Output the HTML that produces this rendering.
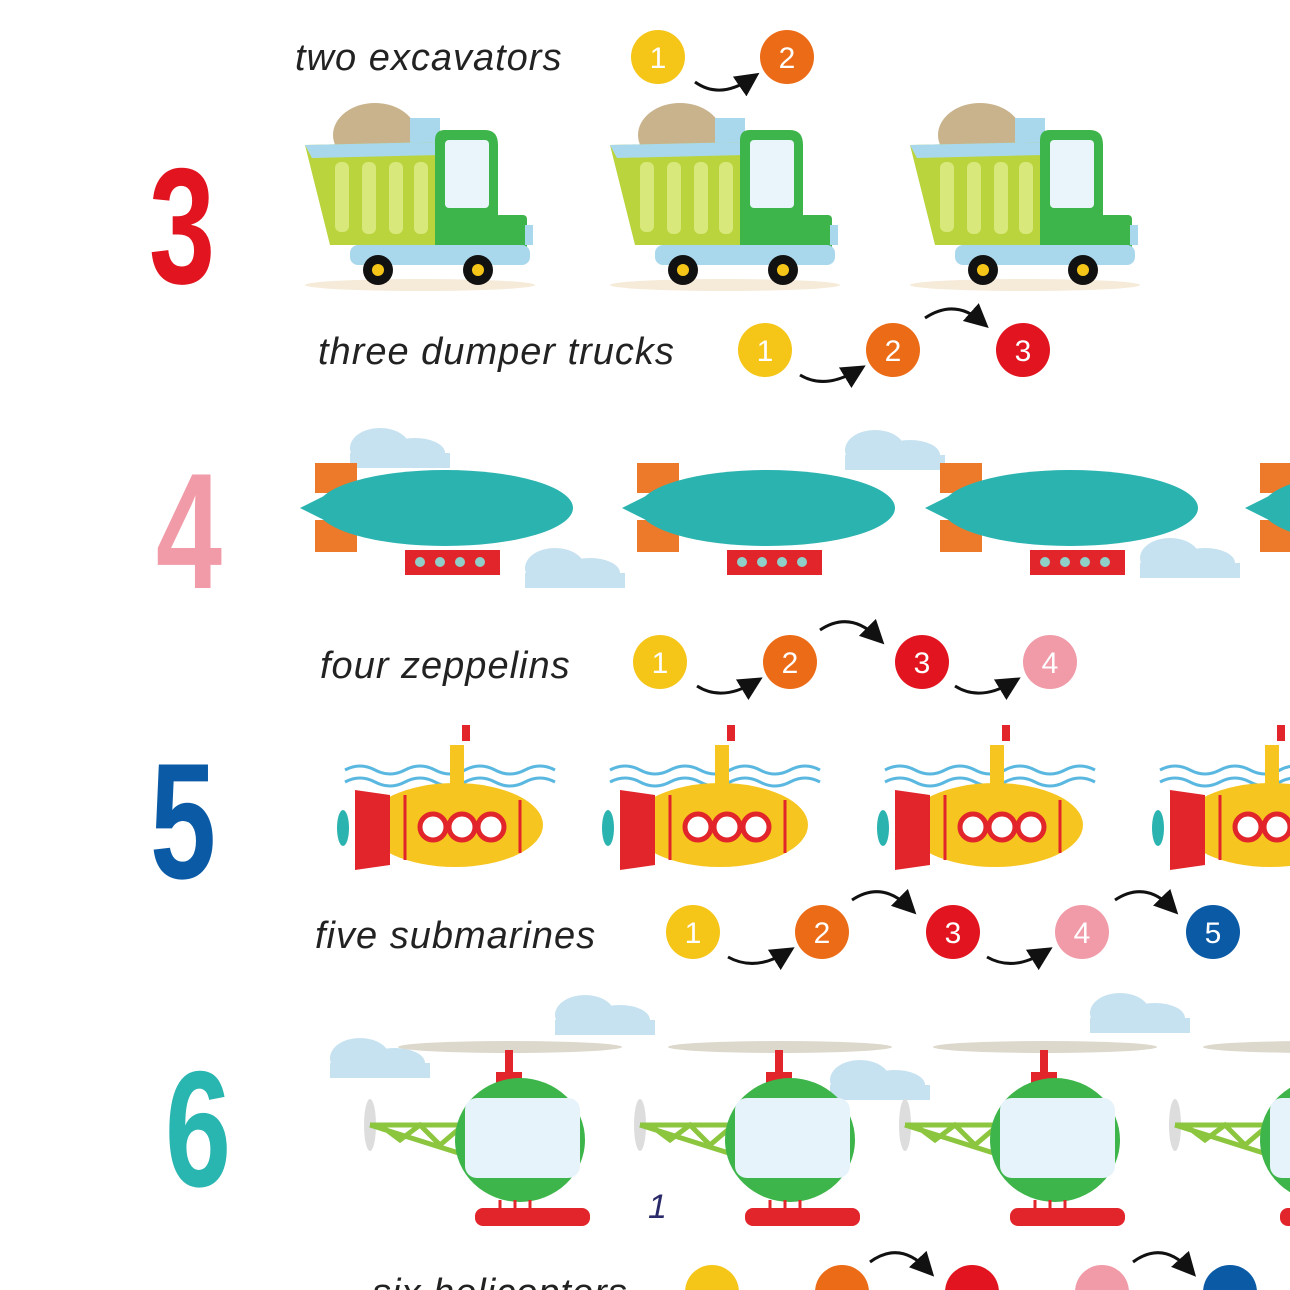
<!DOCTYPE html>
<html><head><meta charset="utf-8"><style>
html,body{margin:0;padding:0;background:#fff;}
svg{display:block}
.t{font-family:"Liberation Sans",sans-serif;font-style:italic;font-size:38px;fill:#222;letter-spacing:1px}
.n{font-family:"Liberation Sans",sans-serif;font-size:30px;fill:#fff;text-anchor:middle}
.big{font-family:"Liberation Sans",sans-serif;font-weight:bold;font-size:165px;text-anchor:middle}
</style></head><body>
<svg width="1290" height="1290" viewBox="0 0 1290 1290" xmlns="http://www.w3.org/2000/svg">
<defs>
<marker id="ah" markerWidth="8" markerHeight="8" refX="5" refY="4" orient="auto"><path d="M0,0 L8,4 L0,8 Z" fill="#111"/></marker>
<g id="truck">
  <ellipse cx="120" cy="185" rx="115" ry="6" fill="#f6ead8"/>
  <ellipse cx="75" cy="35" rx="42" ry="32" fill="#c9b38c"/>
  <rect x="110" y="18" width="30" height="30" fill="#a9d8ec"/>
  <polygon points="5,45 140,42 140,145 30,145" fill="#b9d43c"/>
  <polygon points="5,45 140,42 140,55 12,58" fill="#a9d8ec"/>
  <g fill="#d9e87a"><rect x="35" y="62" width="14" height="70" rx="6"/><rect x="62" y="62" width="14" height="72" rx="6"/><rect x="89" y="62" width="14" height="72" rx="6"/><rect x="114" y="62" width="14" height="72" rx="6"/></g>
  <path d="M135,150 L135,40 Q135,30 145,30 L185,30 Q198,30 198,45 L198,150 Z" fill="#3eb54a"/>
  <rect x="145" y="40" width="44" height="68" rx="4" fill="#e9f5fb"/>
  <rect x="195" y="115" width="32" height="40" rx="4" fill="#3eb54a"/>
  <rect x="225" y="125" width="8" height="20" fill="#a9d8ec"/>
  <rect x="50" y="145" width="180" height="20" rx="8" fill="#a9d8ec"/>
  <circle cx="78" cy="170" r="15" fill="#111"/><circle cx="78" cy="170" r="6" fill="#f5c518"/>
  <circle cx="178" cy="170" r="15" fill="#111"/><circle cx="178" cy="170" r="6" fill="#f5c518"/>
</g>
<g id="zep">
  <rect x="15" y="5" width="42" height="30" fill="#ec7a2a"/>
  <rect x="15" y="62" width="42" height="32" fill="#ec7a2a"/>
  <polygon points="0,50 40,30 40,70" fill="#2bb3b0"/>
  <ellipse cx="145" cy="50" rx="128" ry="38" fill="#2bb3b0"/>
  <rect x="105" y="92" width="95" height="25" fill="#e2242b"/>
  <g fill="#8fcfc8"><circle cx="120" cy="104" r="5"/><circle cx="140" cy="104" r="5"/><circle cx="160" cy="104" r="5"/><circle cx="180" cy="104" r="5"/></g>
</g>
<g id="cloud" fill="#c6e2f0"><ellipse cx="30" cy="20" rx="30" ry="20"/><ellipse cx="65" cy="25" rx="30" ry="15"/><rect x="0" y="25" width="100" height="15"/></g>
<g id="sub">
  <path d="M10,45 q15,-8 30,0 t30,0 t30,0 t30,0 t30,0 t30,0 t30,0" stroke="#5ab8e0" stroke-width="3" fill="none"/>
  <path d="M10,57 q15,-8 30,0 t30,0 t30,0 t30,0 t30,0 t30,0 t30,0" stroke="#5ab8e0" stroke-width="3" fill="none"/>
  <rect x="115" y="20" width="14" height="50" fill="#f7c520"/>
  <rect x="127" y="0" width="8" height="16" fill="#e2242b"/>
  <ellipse cx="120" cy="100" rx="88" ry="42" fill="#f7c520"/>
  <polygon points="20,65 55,70 55,140 20,145" fill="#e2242b"/>
  <ellipse cx="8" cy="103" rx="6" ry="18" fill="#2bb3b0"/>
  <g fill="#fff" stroke="#e2242b" stroke-width="5"><circle cx="98" cy="102" r="13"/><circle cx="127" cy="102" r="13"/><circle cx="156" cy="102" r="13"/></g>
  <line x1="70" y1="70" x2="70" y2="135" stroke="#e2242b" stroke-width="3"/>
  <line x1="185" y1="75" x2="185" y2="128" stroke="#e2242b" stroke-width="3"/>
</g>
<g id="heli">
  <ellipse cx="150" cy="7" rx="112" ry="6" fill="#ddd8cc"/>
  <rect x="145" y="10" width="8" height="25" fill="#e2242b"/>
  <rect x="136" y="32" width="26" height="12" fill="#e2242b"/>
  <ellipse cx="10" cy="85" rx="6" ry="26" fill="#ddd"/>
  <path d="M10,85 L110,85 M10,85 L105,115 M20,85 L40,100 L60,85 L80,105 L100,88" stroke="#8cc63f" stroke-width="5" fill="none"/>
  <ellipse cx="160" cy="100" rx="65" ry="62" fill="#3eb54a"/>
  <rect x="105" y="58" width="115" height="80" rx="12" fill="#e6f3fb"/>
  <path d="M140,160 L140,175 M155,160 L155,175 M170,160 L170,175" stroke="#e2242b" stroke-width="3"/>
  <rect x="115" y="168" width="115" height="18" rx="8" fill="#e2242b"/>
</g>
</defs>

<!-- big numbers -->
<text class="big" transform="translate(182,283) scale(0.72,1)" fill="#e2141f">3</text>
<text class="big" transform="translate(189,588) scale(0.72,1)" fill="#f19aa8">4</text>
<text class="big" transform="translate(183,878) scale(0.72,1)" fill="#0a5aa6">5</text>
<text class="big" transform="translate(198,1186) scale(0.72,1)" fill="#29b5b0">6</text>

<!-- row labels -->
<text class="t" x="295" y="70">two excavators</text>
<text class="t" x="318" y="364">three dumper trucks</text>
<text class="t" x="320" y="678">four zeppelins</text>
<text class="t" x="315" y="948">five submarines</text>
<text class="t" x="372" y="1305">six helicopters</text>
<text x="648" y="1218" font-family="Liberation Sans,sans-serif" font-size="34" fill="#2a2a6a" font-style="italic">1</text>

<use href="#truck" x="300" y="100"/>
<use href="#truck" x="605" y="100"/>
<use href="#truck" x="905" y="100"/>

<use href="#cloud" x="350" y="428"/>
<use href="#cloud" x="845" y="430"/>
<use href="#cloud" x="525" y="548"/>
<use href="#cloud" x="1140" y="538"/>
<use href="#zep" x="300" y="458"/>
<use href="#zep" x="622" y="458"/>
<use href="#zep" x="925" y="458"/>
<use href="#zep" x="1245" y="458"/>

<use href="#sub" x="335" y="725"/>
<use href="#sub" x="600" y="725"/>
<use href="#sub" x="875" y="725"/>
<use href="#sub" x="1150" y="725"/>

<use href="#cloud" x="330" y="1038"/>
<use href="#cloud" x="555" y="995"/>
<use href="#cloud" x="830" y="1060"/>
<use href="#cloud" x="1090" y="993"/>
<use href="#heli" x="360" y="1040"/>
<use href="#heli" x="630" y="1040"/>
<use href="#heli" x="895" y="1040"/>
<use href="#heli" x="1165" y="1040"/>

<g>
<circle cx="658" cy="57" r="27" fill="#f5c518"/><text class="n" x="658" y="68">1</text>
<circle cx="787" cy="57" r="27" fill="#ec6b16"/><text class="n" x="787" y="68">2</text>
<path d="M695,82 Q720,100 752,78" stroke="#111" stroke-width="3" fill="none" marker-end="url(#ah)"/>

<circle cx="765" cy="350" r="27" fill="#f5c518"/><text class="n" x="765" y="361">1</text>
<circle cx="893" cy="350" r="27" fill="#ec6b16"/><text class="n" x="893" y="361">2</text>
<circle cx="1023" cy="350" r="27" fill="#e2141f"/><text class="n" x="1023" y="361">3</text>
<path d="M800,375 Q825,390 858,370" stroke="#111" stroke-width="3" fill="none" marker-end="url(#ah)"/>
<path d="M925,318 Q955,298 982,322" stroke="#111" stroke-width="3" fill="none" marker-end="url(#ah)"/>

<circle cx="660" cy="662" r="27" fill="#f5c518"/><text class="n" x="660" y="673">1</text>
<circle cx="790" cy="662" r="27" fill="#ec6b16"/><text class="n" x="790" y="673">2</text>
<circle cx="922" cy="662" r="27" fill="#e2141f"/><text class="n" x="922" y="673">3</text>
<circle cx="1050" cy="662" r="27" fill="#f19aa8"/><text class="n" x="1050" y="673">4</text>
<path d="M697,686 Q722,702 755,682" stroke="#111" stroke-width="3" fill="none" marker-end="url(#ah)"/>
<path d="M820,630 Q850,610 878,638" stroke="#111" stroke-width="3" fill="none" marker-end="url(#ah)"/>
<path d="M955,686 Q980,702 1013,682" stroke="#111" stroke-width="3" fill="none" marker-end="url(#ah)"/>

<circle cx="693" cy="932" r="27" fill="#f5c518"/><text class="n" x="693" y="943">1</text>
<circle cx="822" cy="932" r="27" fill="#ec6b16"/><text class="n" x="822" y="943">2</text>
<circle cx="953" cy="932" r="27" fill="#e2141f"/><text class="n" x="953" y="943">3</text>
<circle cx="1082" cy="932" r="27" fill="#f19aa8"/><text class="n" x="1082" y="943">4</text>
<circle cx="1213" cy="932" r="27" fill="#0a5aa6"/><text class="n" x="1213" y="943">5</text>
<path d="M728,957 Q755,972 787,952" stroke="#111" stroke-width="3" fill="none" marker-end="url(#ah)"/>
<path d="M852,900 Q882,880 910,908" stroke="#111" stroke-width="3" fill="none" marker-end="url(#ah)"/>
<path d="M987,957 Q1013,972 1045,952" stroke="#111" stroke-width="3" fill="none" marker-end="url(#ah)"/>
<path d="M1115,900 Q1145,880 1172,908" stroke="#111" stroke-width="3" fill="none" marker-end="url(#ah)"/>

<circle cx="712" cy="1292" r="27" fill="#f5c518"/>
<circle cx="842" cy="1292" r="27" fill="#ec6b16"/>
<circle cx="972" cy="1292" r="27" fill="#e2141f"/>
<circle cx="1102" cy="1292" r="27" fill="#f19aa8"/>
<circle cx="1230" cy="1292" r="27" fill="#0a5aa6"/>
<path d="M870,1262 Q900,1240 928,1270" stroke="#111" stroke-width="3" fill="none" marker-end="url(#ah)"/>
<path d="M1133,1262 Q1163,1240 1190,1270" stroke="#111" stroke-width="3" fill="none" marker-end="url(#ah)"/>
</g>
</svg>
</body></html>
